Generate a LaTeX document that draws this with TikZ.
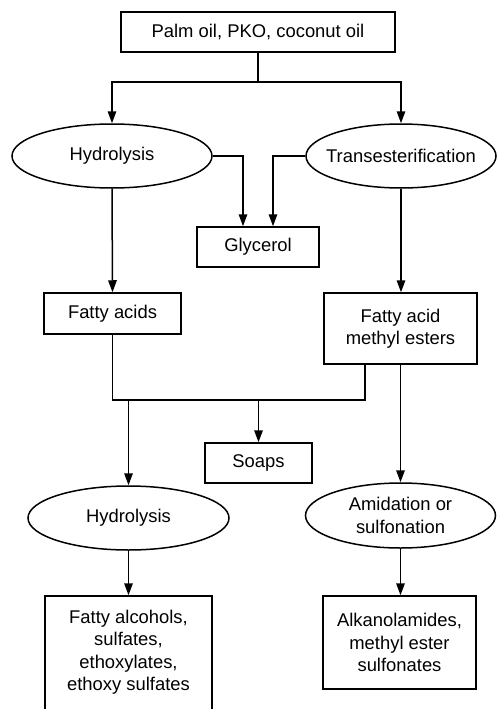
\documentclass[tikz,border=0pt]{standalone}
\usepackage{fontspec}
\setmainfont{Liberation Sans}
\usetikzlibrary{shapes.geometric,arrows.meta}
\begin{document}
\begin{tikzpicture}[x=1pt,y=-1pt,
  line width=1.5pt,
  every node/.style={font=\fontsize{18.4}{22.5}\selectfont, align=center},
  boxnode/.style={draw, rectangle, inner sep=0pt},
  ovalnode/.style={draw, ellipse, inner sep=0pt},
  txt/.style={inner sep=0pt},
  arr/.style={-{Triangle[length=12pt,width=8.5pt]}}]
\useasboundingbox (0,0) rectangle (496,709);
% nodes
\node[boxnode, minimum width=274pt, minimum height=40pt] (top) at (258,32) {Palm oil, PKO, coconut oil};
\node[ovalnode, minimum width=200pt, minimum height=64pt] (hyd1) at (112,156) {};
\node[txt] (hyd1T) at (hyd1.center) {Hydrolysis};
\node[ovalnode, minimum width=190pt, minimum height=64pt] (trans) at (401,156) {};
\node[txt] (transT) at (trans.center) {Transesterification};
\node[boxnode, minimum width=122pt, minimum height=40pt] (gly) at (258,247) {Glycerol};
\node[boxnode, minimum width=137pt, minimum height=41pt] (fa) at (112.5,313.5) {Fatty acids};
\node[boxnode, minimum width=153pt, minimum height=71pt] (fame) at (400.5,328.5) {Fatty acid\\methyl esters};
\node[boxnode, minimum width=107pt, minimum height=40pt] (soaps) at (258.5,463) {Soaps};
\node[ovalnode, minimum width=201pt, minimum height=64pt] (hyd2) at (128.5,518) {};
\node[txt] (hyd2T) at (hyd2.center) {Hydrolysis};
\node[ovalnode, minimum width=190pt, minimum height=65pt] (amid) at (400.5,515.5) {};
\node[txt] (amidT) at (amid.center) {Amidation or\\sulfonation};
\node[boxnode, minimum width=167pt, minimum height=118pt] (falc) at (128.5,655) {};
\node[txt] (falcT) at (128.5,652) {Fatty alcohols,\\sulfates,\\ethoxylates,\\ethoxy sulfates};
\node[boxnode, minimum width=153pt, minimum height=93pt] (alk) at (399.5,642.5) {Alkanolamides,\\methyl ester\\sulfonates};
% coordinates
\coordinate (split) at (258,82);
\coordinate (mL) at (112.5,400);
\coordinate (mR) at (365,400);
\coordinate (m1) at (128.5,400);
\coordinate (m2) at (258.5,400);
% connectors
\draw (top.south) -- (split);
\draw[arr] (split) -| (hyd1.north);
\draw[arr] (split) -| (trans.north);
\draw[arr] (hyd1.east) -| ([xshift=-15pt]gly.north);
\draw[arr] (trans.west) -| ([xshift=15pt]gly.north);
\draw[arr] (hyd1.south) -- (fa.north);
\draw[arr] (trans.south) -- (trans.south |- fame.north);
\draw (fa.south) -- (mL) -- (mR) -- (mR |- fame.south);
\draw[arr] (m1) -- (hyd2.north);
\draw[arr] (m2) -- (soaps.north);
\draw[arr] (fame.south) -- (amid.north);
\draw[arr] (hyd2.south) -- (falc.north);
\draw[arr] (amid.south) -- (amid.south |- alk.north);
\end{tikzpicture}
\end{document}
